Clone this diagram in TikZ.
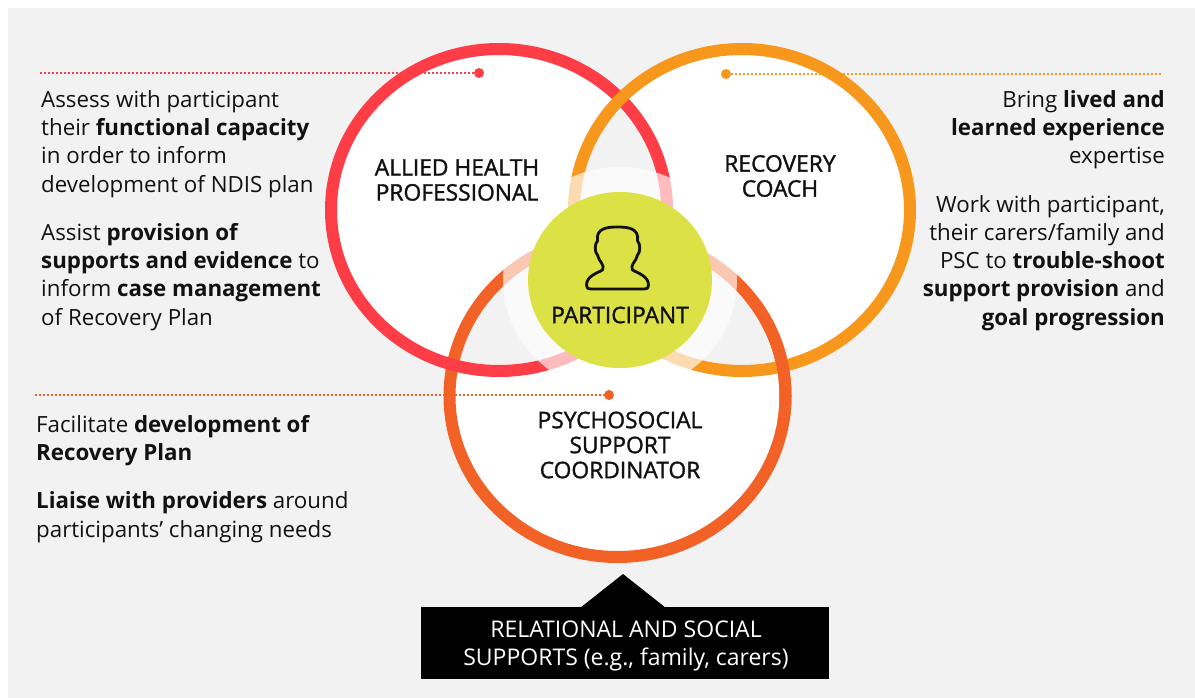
\documentclass[tikz,border=0pt]{standalone}
\usepackage{fontspec}
\setmainfont{Open Sans}
\newfontfamily\semifont{Open Sans}[FakeBold=1.4]
\definecolor{bg}{HTML}{F2F2F2}
\definecolor{ahred}{HTML}{FF3D46}
\definecolor{rcorange}{HTML}{F7981D}
\definecolor{psdark}{HTML}{F26125}
\definecolor{partgreen}{HTML}{DCE245}
\definecolor{ink}{HTML}{111111}
\tikzset{
  ring/.style={line width=12pt},
  dotline/.style={line width=2pt, dash pattern=on 1.6pt off 2.4pt},
  dotend/.style={circle, inner sep=0pt, minimum size=10pt},
  bodytext/.style={inner sep=0pt, text=ink, font=\fontsize{22.3}{28.3}\selectfont},
  circlabel/.style={inner sep=0pt, text=ink, align=center, font=\semifont\fontsize{22.8}{25}\selectfont},
}
\begin{document}
\begin{tikzpicture}[x=1pt,y=-1pt]
\useasboundingbox (0,0) rectangle (1195,698);
\fill[bg] (8,8) rectangle (1195,698);
% white fills, overlaps left grey
\fill[white, even odd rule]
  (499,210) ellipse [x radius=168pt, y radius=161pt]
  (742,210) ellipse [x radius=168pt, y radius=161pt]
  (617.5,396) ellipse [x radius=168pt, y radius=161pt];
% rings
\draw[ring, psdark] (617.5,396) ellipse [x radius=168pt, y radius=161pt];
\draw[ring, ahred] (499,210) ellipse [x radius=168pt, y radius=161pt];
\draw[ring, rcorange] (742,210) ellipse [x radius=168pt, y radius=161pt];
\begin{scope}
  \clip (700,300) rectangle (840,420);
  \draw[ring, psdark] (617.5,396) ellipse [x radius=168pt, y radius=161pt];
\end{scope}
% halo
\fill[white, opacity=0.65] (620,280) ellipse [x radius=117pt, y radius=113pt];
% participant
\fill[partgreen] (620,280) ellipse [x radius=92pt, y radius=88pt];
\draw[ink, line width=2.8pt, line join=round, shift={(617.5,258)}]
  (0,31) -- (-27,31) .. controls (-30,31) and (-31,30) .. (-31,27)
  .. controls (-31,18) and (-20,15) .. (-15,12)
  .. controls (-14,10) and (-14,7) .. (-16,5)
  .. controls (-18,3) and (-19,0) .. (-20,-3)
  .. controls (-23,-5) and (-23,-15) .. (-20,-17)
  .. controls (-22,-30) and (-10,-31) .. (0,-31)
  .. controls (10,-31) and (22,-30) .. (20,-17)
  .. controls (23,-15) and (23,-5) .. (20,-3)
  .. controls (19,0) and (18,3) .. (16,5)
  .. controls (14,7) and (14,10) .. (15,12)
  .. controls (20,15) and (31,18) .. (31,27)
  .. controls (31,30) and (30,31) .. (27,31) -- cycle;
\node[circlabel] (part) at (620,315) {PARTICIPANT};
\node[circlabel] (ahp) at (457,180) {ALLIED HEALTH\\PROFESSIONAL};
\node[circlabel] (rc) at (780,176) {RECOVERY\\COACH};
\node[circlabel] (psc) at (620,445) {PSYCHOSOCIAL\\SUPPORT\\COORDINATOR};
% dotted leader lines
\coordinate (rl) at (40,73);
\node[dotend, fill=ahred] (rd) at (479,73) {};
\draw[dotline, ahred] (rl) -- (rd);
\coordinate (ol) at (1163,74);
\node[dotend, fill=rcorange] (od) at (726,74) {};
\draw[dotline, rcorange] (od) -- (ol);
\coordinate (pl) at (35,395);
\node[dotend, fill=psdark] (pd) at (609,395) {};
\draw[dotline, psdark] (pl) -- (pd);
% texts
\node[bodytext, anchor=north west, align=left] (ahtext) at (41,90)
 {Assess with participant\\
  their \textbf{functional capacity}\\
  in order to inform\\
  development of NDIS plan\\[20pt]
  Assist \textbf{provision of}\\
  \textbf{supports and evidence} to\\
  inform \textbf{case management}\\
  of Recovery Plan};
\node[bodytext, anchor=north east, align=right] (rctext) at (1165,90)
 {Bring \textbf{lived and}\\
  \textbf{learned experience}\\
  expertise\\[20pt]
  Work with participant,\\
  their carers/family and\\
  PSC to \textbf{trouble-shoot}\\
  \textbf{support provision} and\\
  \textbf{goal progression}};
\node[bodytext, anchor=north west, align=left] (psctext) at (36,415)
 {Facilitate \textbf{development of}\\
  \textbf{Recovery Plan}\\[20pt]
  \textbf{Liaise with providers} around\\
  participants’ changing needs};
% bottom box
\fill[black] (421,607) rectangle (829,679);
\fill[black] (580,608) -- (623,574) -- (666,608) -- cycle;
\node[inner sep=0pt, text=white, align=center, font=\fontsize{23}{28.5}\selectfont] (rss) at (626,646)
 {RELATIONAL AND SOCIAL\\SUPPORTS (e.g., family, carers)};
\end{tikzpicture}
\end{document}
